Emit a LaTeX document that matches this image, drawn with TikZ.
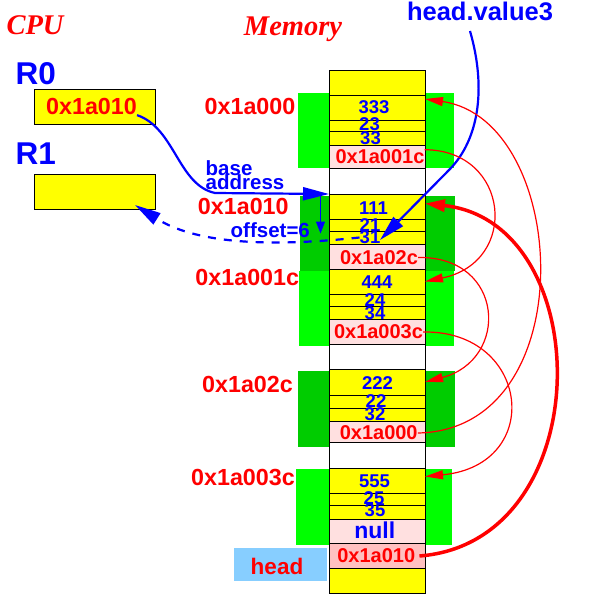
\documentclass[tikz,border=0pt]{standalone}
\usepackage{fontspec}
\usetikzlibrary{arrows.meta}
\newfontfamily\hv{Liberation Sans}
\newfontfamily\tm{Liberation Serif}
\definecolor{pinkA}{HTML}{FFE0E0}
\definecolor{pinkB}{HTML}{FFC0C0}
\definecolor{gA}{HTML}{00FF00}
\definecolor{gB}{HTML}{00CC00}
\definecolor{ltblue}{HTML}{87CEFF}
\definecolor{yel}{HTML}{FFFF00}
\tikzset{
  cell/.style={draw=black, line width=0.9pt, minimum width=96pt, inner sep=0pt, outer sep=0pt, anchor=north west},
  reg/.style={draw=black, line width=0.9pt, fill=yel, minimum width=121pt, minimum height=35pt, inner sep=0pt, outer sep=0pt, anchor=north west},
  title/.style={text=red, font=\tm\bfseries\itshape\fontsize{28.5}{28.5}\selectfont, inner sep=0pt},
  regname/.style={text=blue, font=\hv\bfseries\fontsize{31.5}{31.5}\selectfont, inner sep=0pt},
  addr/.style={text=red, font=\hv\bfseries\fontsize{23.3}{23.3}\selectfont, inner sep=0pt},
  val/.style={text=blue, font=\hv\bfseries\fontsize{18.5}{18.5}\selectfont, inner sep=0pt},
  ptr/.style={text=red, font=\hv\bfseries\fontsize{20}{20}\selectfont, inner sep=0pt},
  note/.style={text=blue, font=\hv\bfseries\fontsize{20.5}{20.5}\selectfont, inner sep=0pt},
  bluearrow/.style={draw=blue, line width=2.2pt, -{Triangle[length=26pt,width=13pt]}},
  bluethin/.style={draw=blue, line width=1.1pt, -{Triangle[length=12pt,width=9pt]}},
  redthin/.style={draw=red, line width=1.2pt, -{Triangle[length=18pt,width=9pt]}},
  redthick/.style={draw=red, line width=3.5pt, -{Triangle[length=20pt,width=12pt]}},
}
\begin{document}
\begin{tikzpicture}[x=1pt,y=-1pt]
\useasboundingbox (0,0) rectangle (592,605);
% green backgrounds
\fill[gA] (298,93) rectangle (454,168);
\fill[gB] (300,196) rectangle (455,271);
\fill[gA] (299,271) rectangle (454,346);
\fill[gB] (298,371) rectangle (455,447);
\fill[gA] (296,469) rectangle (452,545);
% head box
\node[fill=ltblue, minimum width=93pt, minimum height=33pt, inner sep=0pt, anchor=north west] (headbox) at (234,548) {};
% memory cells
\node[cell, fill=yel, minimum height=25pt] (m0) at (329,70) {};
\node[cell, fill=yel, minimum height=25pt] (a1) at (329,95) {};
\node[cell, fill=yel, minimum height=11pt] (a2) at (329,120) {};
\node[cell, fill=yel, minimum height=14pt] (a3) at (329,131) {};
\node[cell, fill=pinkA, minimum height=23pt] (a4) at (329,145) {};
\node[cell, fill=white, minimum height=26pt] (g1) at (329,168) {};
\node[cell, fill=yel, minimum height=25pt] (b1) at (329,194) {};
\node[cell, fill=yel, minimum height=12pt] (b2) at (329,219) {};
\node[cell, fill=yel, minimum height=13pt] (b3) at (329,231) {};
\node[cell, fill=pinkA, minimum height=25pt] (b4) at (329,244) {};
\node[cell, fill=yel, minimum height=25pt] (c1) at (329,269) {};
\node[cell, fill=yel, minimum height=12pt] (c2) at (329,294) {};
\node[cell, fill=yel, minimum height=13pt] (c3) at (329,306) {};
\node[cell, fill=pinkA, minimum height=25pt] (c4) at (329,319) {};
\node[cell, fill=white, minimum height=25pt] (g2) at (329,344) {};
\node[cell, fill=yel, minimum height=26pt] (d1) at (329,369) {};
\node[cell, fill=yel, minimum height=13pt] (d2) at (329,395) {};
\node[cell, fill=yel, minimum height=13pt] (d3) at (329,408) {};
\node[cell, fill=pinkA, minimum height=21pt] (d4) at (329,421) {};
\node[cell, fill=white, minimum height=26pt] (g3) at (329,442) {};
\node[cell, fill=yel, minimum height=25pt] (e1) at (329,468) {};
\node[cell, fill=yel, minimum height=12pt] (e2) at (329,493) {};
\node[cell, fill=yel, minimum height=14pt] (e3) at (329,505) {};
\node[cell, fill=pinkA, minimum height=24pt] (e4) at (329,519) {};
\node[cell, fill=pinkB, minimum height=25pt] (e5) at (329,543) {};
\node[cell, fill=yel, minimum height=25pt] (m9) at (329,568) {};
% cell texts
\node[val] (t333) at (374,107.5) {333};
\node[val] (t23) at (369.5,124) {23};
\node[val] (t33) at (370.5,138.5) {33};
\node[ptr] (t001c) at (380,157) {0x1a001c};
\node[val] (t111) at (373.5,208.5) {111};
\node[val] (t21) at (370,225) {21};
\node[val] (t31) at (370,237.5) {31};
\node[ptr] (t02c) at (379,257.5) {0x1a02c};
\node[val] (t444) at (377,282) {444};
\node[val] (t24) at (375,300) {24};
\node[val] (t34) at (375,313.5) {34};
\node[ptr] (t003c) at (378.5,332) {0x1a003c};
\node[val] (t222) at (377.5,383.5) {222};
\node[val] (t22) at (376,401) {22};
\node[val] (t32) at (375,414) {32};
\node[ptr] (t000) at (378.7,433) {0x1a000};
\node[val] (t555) at (374.5,481) {555};
\node[val] (t25) at (374,498) {25};
\node[val] (t35) at (375,510.5) {35};
\node[text=blue, font=\hv\bfseries\fontsize{23}{23}\selectfont, inner sep=0pt] (tnull) at (374.7,530.5) {null};
\node[ptr] (t010) at (376.3,556) {0x1a010};
% address labels
\node[addr] (l000) at (250,106.7) {0x1a000};
\node[addr] (l010) at (243.3,206.7) {0x1a010};
\node[addr] (l001c) at (247.3,277) {0x1a001c};
\node[addr] (l02c) at (247.5,384) {0x1a02c};
\node[addr] (l003c) at (243,477) {0x1a003c};
\node[text=red, font=\hv\bfseries\fontsize{22.5}{22.5}\selectfont, inner sep=0pt] (thead) at (277,566) {head};
% titles
\node[title, anchor=base] (cpu) at (35,34.5) {CPU};
\node[title, anchor=base] (mem) at (293,35) {Memory};
\node[note, font=\hv\bfseries\fontsize{25.5}{25.5}\selectfont] (hv) at (480,11.5) {head.value3};
% registers
\node[regname, anchor=west] (r0n) at (15.5,73.3) {R0};
\node[regname, anchor=west] (r1n) at (15.5,154) {R1};
\node[reg] (r0) at (34.3,89.3) {};
\node[reg] (r1) at (34.3,174) {};
\node[addr] (r0t) at (91.5,106.7) {0x1a010};
% notes
\node[note, anchor=base west] (nbase) at (205.5,175) {base};
\node[note, anchor=base west] (naddr) at (205.5,189) {address};
\node[note, anchor=base west] (noff) at (230.5,237.5) {offset=6};
% coordinates
\coordinate (offTop) at (320.5,195);
\coordinate (offBot) at (320.5,233.5);
\coordinate (r1tip) at (135,205);
\coordinate (hvstart) at (470,31);
\coordinate (hvbend) at (450,169);
\coordinate (hvtip) at (380,240);
% blue arrows
\draw[bluearrow] (r0t.south east) .. controls (175,128) and (178,185) .. (215,193) -- (b1.north west);
\draw[bluethin] (offTop) -- (offBot);
\draw[bluearrow, dash pattern=on 8pt off 8pt] (t31.west) .. controls (280,246) and (200,246) .. (r1tip);
\draw[bluearrow] (hvstart) .. controls (487,90) and (478,140) .. (hvbend) -- (hvtip);
% red arrows
\draw[redthin] (t001c.north east) .. controls (510,150) and (520,262) .. (c1.east);
\draw[redthin] (t02c.east) .. controls (505,256) and (510,360) .. (d1.east);
\draw[redthin] (t003c.east) .. controls (530,330) and (545,465) .. ([yshift=4pt]e1.east);
\draw[redthin] (t000.east) .. controls (585,430) and (570,120) .. ([yshift=-4pt]a1.north east);
\draw[redthick] ([xshift=4pt]t010.east) .. controls (600,542) and (598,222) .. ([yshift=3pt]b1.east);
\end{tikzpicture}
\end{document}
